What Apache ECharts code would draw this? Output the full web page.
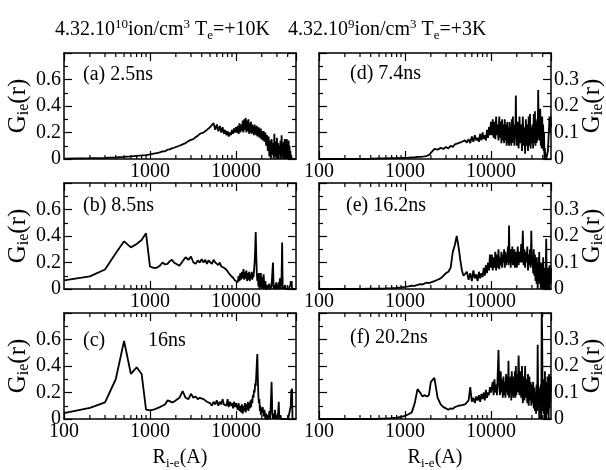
<!DOCTYPE html>
<html><head><meta charset="utf-8">
<script src="https://cdn.jsdelivr.net/npm/echarts@6/dist/echarts.min.js"></script>
<style>html,body{margin:0;padding:0;background:#fff}#c{width:606px;height:470px}</style>
</head><body><div id="c"></div>
<script>
// ---------------- data ----------------
const radius = [100,200,300,400,500,600,700,800,900,1000,
1100,1200,1300,1400,1500,1600,1700,1800,1900,2000,
2200,2400,2600,2800,3000,3200,3400,3600,3800,4000,4200,4400,4600,4800,5000,
5250,5500,5750,6000,6250,6500,6750,7000,7250,7500,7750,8000,8250,8500,8750,9000,9250,9500,9750,10000,
10250,10500,10750,11000,11250,11500,11750,12000,12250,12500,12750,13000,13250,13500,13750,14000,14250,14500,14750,15000,
15250,15500,15750,16000,16250,16500,16750,17000,17250,17500,17750,18000,18250,18500,18750,19000,19250,19500,19750,20000,
20500,21000,21500,22000,22500,23000,23500,24000,24500,25000,25500,26000,26500,27000,27500,28000,28500,29000,29500,30000,
30500,31000,31500,32000,32500,33000,33500,34000,34500,35000,35500,36000,36500,37000,37500,38000,38500,39000,39500,40000,
40500,41000,41500,42000,42500,43000,43500,44000,44500,45000,45500,46000,46500,47000,47500,48000,48500,49000,49500,50000];

// (a) 2.5ns
const gA = [0.003,0.006,0.009,0.012,0.016,0.02,0.024,0.027,0.03,0.035,
0.04,0.045,0.05,0.058,0.058,0.07,0.072,0.08,0.085,0.092,
0.1,0.11,0.12,0.135,0.145,0.15,0.165,0.175,0.19,0.195,0.2,0.21,0.22,0.215,0.24,
0.23,0.27,0.22,0.26,0.21,0.25,0.2,0.24,0.19,0.22,0.18,0.21,0.17,0.2,0.18,0.22,0.19,0.23,0.2,0.24,
0.2,0.25,0.19,0.27,0.2,0.26,0.21,0.29,0.2,0.3,0.22,0.31,0.2,0.29,0.21,0.3,0.19,0.27,0.2,0.28,
0.19,0.26,0.2,0.25,0.18,0.26,0.19,0.24,0.18,0.25,0.17,0.23,0.18,0.24,0.16,0.22,0.17,0.23,0.15,0.21,
0.14,0.21,0.13,0.2,0.1,0.18,0.06,0.17,0.02,0.14,0.0,0.15,0.03,0.12,0.0,0.19,0.02,0.13,0.0,0.16,
0.01,0.12,0.0,0.1,0.04,0.14,0.0,0.18,0.02,0.11,0.0,0.13,0.0,0.15,0.01,0.14,0.0,0.15,0.03,0.12,
0.0,0.14,0.02,0.1,0.0,0.06,0.0,0.03,0.0,0.0,0.0,0.0,0.0,0.0,0.0,0.0,0.0,0.0,0.0,0.0];
// (b) 8.5ns
const gB = [0.065,0.095,0.147,0.27,0.36,0.314,0.34,0.37,0.42,0.17,
0.16,0.16,0.175,0.2,0.185,0.19,0.21,0.22,0.2,0.19,
0.175,0.21,0.24,0.22,0.245,0.2,0.19,0.215,0.2,0.225,0.2,0.22,0.19,0.215,0.2,
0.19,0.22,0.2,0.21,0.18,0.2,0.17,0.185,0.16,0.17,0.145,0.14,0.12,0.115,0.1,0.095,0.085,0.07,0.065,0.08,
0.07,0.05,0.1,0.06,0.12,0.07,0.13,0.08,0.15,0.07,0.13,0.08,0.14,0.06,0.12,0.07,0.13,0.06,0.11,0.08,
0.13,0.07,0.12,0.09,0.14,0.2,0.3,0.43,0.25,0.12,0.06,0.11,0.02,0.12,0.0,0.1,0.03,0.12,0.01,0.09,
0.0,0.11,0.0,0.06,-0.02,0.03,0.0,0.0,0.04,0.0,0.0,0.02,0.12,0.2,0.0,0.03,0.0,0.0,0.05,0.0,
0.02,0.0,0.05,0.0,0.08,0.0,0.0,0.1,0.35,0.0,0.02,0.0,0.0,0.0,0.03,0.0,0.0,0.0,0.0,0.0,
0.0,0.0,0.0,0.0,0.0,0.03,0.06,0.02,0.06,0.0,0.0,0.0,0.0,0.0,0.0,0.0,0.0,0.0,0.0,0.0];
// (c) 16ns
const gC = [0.044,0.084,0.126,0.3,0.59,0.34,0.39,0.34,0.07,0.065,
0.07,0.08,0.09,0.1,0.11,0.14,0.135,0.125,0.13,0.14,
0.16,0.21,0.16,0.15,0.19,0.16,0.17,0.15,0.16,0.145,0.15,0.14,0.13,0.135,0.12,
0.1,0.13,0.11,0.14,0.1,0.13,0.11,0.15,0.11,0.12,0.1,0.15,0.09,0.13,0.1,0.12,0.08,0.13,0.09,0.12,
0.11,0.07,0.12,0.06,0.1,0.05,0.11,0.04,0.1,0.06,0.12,0.05,0.11,0.07,0.13,0.06,0.12,0.08,0.14,0.09,
0.15,0.12,0.18,0.16,0.22,0.2,0.27,0.25,0.33,0.42,0.49,0.3,0.18,0.12,0.15,0.06,0.1,0.03,0.08,0.05,
0.09,0.02,0.07,0.0,0.04,-0.02,0.03,0.0,0.06,0.0,0.12,0.28,0.05,0.0,0.04,0.0,0.07,0.0,0.02,0.0,
0.0,0.05,0.13,0.0,0.0,0.03,0.0,0.0,0.0,0.0,0.0,0.0,0.0,0.0,0.0,0.0,0.0,0.0,0.0,0.0,
0.0,0.0,0.0,0.0,0.0,0.0,0.1,0.22,0.15,0.23,0.0,0.0,0.0,0.0,0.0,0.0,0.0,0.0,0.0,0.0];
// (d) 7.4ns
const gD = [0,0,0,0.001,0.002,0.002,0.003,0.003,0.004,0.004,
0.005,0.006,0.006,0.008,0.008,0.009,0.01,0.012,0.015,0.02,
0.038,0.035,0.042,0.038,0.045,0.04,0.05,0.045,0.055,0.05,0.06,0.055,0.065,0.058,0.07,
0.062,0.075,0.06,0.085,0.065,0.09,0.07,0.08,0.065,0.095,0.07,0.1,0.075,0.09,0.07,0.11,0.08,0.12,0.09,0.14,
0.09,0.15,0.08,0.14,0.075,0.16,0.09,0.13,0.07,0.16,0.08,0.14,0.06,0.15,0.07,0.13,0.06,0.15,0.07,0.13,
0.05,0.14,0.06,0.12,0.05,0.14,0.06,0.12,0.05,0.15,0.06,0.16,0.07,0.13,0.05,0.12,0.08,0.24,0.1,0.05,
0.14,0.04,0.16,0.06,0.13,0.03,0.16,0.05,0.12,0.02,0.15,0.05,0.13,0.03,0.16,0.05,0.17,0.04,0.12,0.06,
0.13,0.04,0.17,0.06,0.18,0.05,0.14,0.06,0.15,0.07,0.26,0.08,0.12,0.07,0.19,0.05,0.15,0.04,0.16,0.06,
0.13,0.03,0.1,0.0,0.04,0.0,0.02,0.0,0.0,0.0,0.0,0.03,0.06,0.09,0.12,0.16,0.1,0.14,0.16,0.12];
// (e) 16.2ns
const gE = [0,0,0,0.001,0.001,0.002,0.003,0.004,0.006,0.008,
0.01,0.013,0.012,0.016,0.018,0.017,0.021,0.024,0.022,0.025,
0.03,0.035,0.04,0.05,0.06,0.065,0.08,0.14,0.165,0.2,0.16,0.11,0.07,0.05,0.045,
0.065,0.035,0.06,0.03,0.07,0.04,0.055,0.03,0.065,0.04,0.06,0.045,0.08,0.05,0.09,0.06,0.1,0.07,0.13,0.08,
0.13,0.07,0.12,0.08,0.14,0.07,0.13,0.08,0.15,0.075,0.12,0.09,0.14,0.08,0.13,0.1,0.15,0.08,0.14,0.09,
0.13,0.1,0.16,0.09,0.24,0.1,0.13,0.08,0.15,0.1,0.16,0.09,0.14,0.1,0.15,0.08,0.13,0.09,0.14,0.08,
0.16,0.09,0.14,0.1,0.17,0.1,0.22,0.09,0.15,0.08,0.14,0.1,0.16,0.07,0.13,0.09,0.15,0.08,0.22,0.09,
0.12,0.06,0.15,0.05,0.13,0.03,0.12,0.02,0.1,0.0,0.12,0.03,0.14,0.02,0.1,0.0,0.08,0.02,0.1,0.0,
0.12,0.03,0.08,0.0,0.05,0.0,0.07,0.19,0.05,0.0,0.02,0.08,0.03,0.07,0.0,0.09,0.03,0.08,0.02,0.08];
// (f) 20.2ns
const gF = [0,0,0,0,0.001,0.002,0.003,0.005,0.008,0.012,
0.018,0.025,0.06,0.113,0.1,0.085,0.09,0.085,0.09,0.14,
0.155,0.08,0.055,0.045,0.04,0.035,0.04,0.038,0.045,0.042,0.05,0.048,0.052,0.05,0.055,
0.06,0.07,0.12,0.065,0.08,0.06,0.085,0.07,0.09,0.065,0.095,0.075,0.1,0.07,0.11,0.08,0.1,0.09,0.12,0.1,
0.1,0.14,0.09,0.15,0.1,0.13,0.09,0.17,0.26,0.12,0.09,0.18,0.1,0.15,0.08,0.16,0.09,0.14,0.08,0.17,
0.1,0.16,0.09,0.22,0.08,0.15,0.1,0.16,0.07,0.18,0.09,0.16,0.08,0.15,0.1,0.18,0.08,0.2,0.09,0.17,
0.1,0.24,0.09,0.18,0.08,0.2,0.06,0.16,0.07,0.2,0.08,0.15,0.06,0.17,0.05,0.16,0.07,0.14,0.05,0.13,
0.06,0.14,0.04,0.12,0.03,0.1,0.02,0.13,0.03,0.28,0.06,0.12,0.0,0.1,0.02,0.13,0.0,0.42,0.3,0.03,
0.15,0.02,0.12,0.0,0.18,0.04,0.14,0.0,0.12,0.02,0.16,0.05,0.13,0.0,0.17,0.04,0.12,0.06,0.16,0.1];

const panelLetters = ['(a)','(b)','(c)','(d)','(e)','(f)'];
const panelTimes = ['2.5ns','8.5ns','16ns','7.4ns','16.2ns','20.2ns'];
const yMaxima = [0.8,0.8,0.8,0.4,0.4,0.4];
const yIntervals = [0.2,0.2,0.2,0.1,0.1,0.1];
const xTickLabels = [100,1000,10000];
const xMinorTicks = [200,300,400,500,600,700,800,900,2000,3000,4000,5000,6000,7000,8000,9000,20000,30000,40000];
const titles = ['{b|4.32.10}{p|10}{b|ion/cm}{p|3}{b| T}{s|e}{b|=+10K}',
                '{b|4.32.10}{p|9}{b|ion/cm}{p|3}{b| T}{s|e}{b|=+3K}'];
const yName = '{b|G}{s|ie}{b|(r)}';
const xName = '{b|R}{s|i-e}{b|(A)}';

// ---------------- layout ----------------
const FF = 'Liberation Serif';
const rich = {
  b: {fontFamily: FF, fontSize: 20, color: '#000', lineHeight: 24},
  s: {fontFamily: FF, fontSize: 13, color: '#000', verticalAlign: 'bottom', lineHeight: 8},
  p: {fontFamily: FF, fontSize: 13, color: '#000', verticalAlign: 'top', lineHeight: 14}
};
const richY = {
  b: {fontFamily: FF, fontSize: 25, color: '#000', lineHeight: 28},
  s: {fontFamily: FF, fontSize: 16, color: '#000', verticalAlign: 'bottom', lineHeight: 10}
};
const panelData = [gA, gB, gC, gD, gE, gF];
const colLeft = [64, 319], rowTop = [53, 183, 313], W = 232, H = 106;
const LW = 1.5;
const grids = [], xAxes = [], yAxes = [], series = [], graphics = [];

panelData.forEach((vals, i) => {
  const col = i < 3 ? 0 : 1, row = i % 3;
  grids.push({left: colLeft[col], top: rowTop[row], width: W, height: H, show: false,
    containLabel: false, outerBoundsMode: 'none'});
  const baseX = {type: 'log', logBase: 10, gridIndex: i, min: 100, max: 50000,
    axisLine: {show: true, onZero: false, lineStyle: {color: '#000', width: LW}},
    axisTick: {show: true, inside: true, length: 8, lineStyle: {color: '#000', width: 1.2}},
    minorTick: {show: false}, splitLine: {show: false}, minorSplitLine: {show: false}};
  const showMin = col === 1 || row === 2;
  xAxes.push(Object.assign({}, baseX, {position: 'bottom',
    axisLabel: {show: true, margin: 3, fontFamily: FF, fontSize: 20, color: '#000',
      showMinLabel: showMin, showMaxLabel: false,
      formatter: v => { const r = Math.round(v); return xTickLabels.indexOf(r) >= 0 ? String(r) : ''; }},
    name: row === 2 ? xName : '', nameLocation: 'middle', nameGap: 27, nameMoveOverlap: false,
    nameTextStyle: {rich: rich}}));
  xAxes.push(Object.assign({}, baseX, {position: 'top', axisLabel: {show: false}}));

  const ymax = yMaxima[i], yint = yIntervals[i];
  const baseY = {type: 'value', gridIndex: i, min: 0, max: ymax, interval: yint,
    axisLine: {show: true, onZero: false, lineStyle: {color: '#000', width: LW}},
    axisTick: {show: true, inside: true, length: 8, lineStyle: {color: '#000', width: 1.2}},
    minorTick: {show: true, splitNumber: 2, length: 4, lineStyle: {color: '#000', width: 1.2}},
    splitLine: {show: false}, minorSplitLine: {show: false}};
  const labelSide = col === 0 ? 'left' : 'right';
  const otherSide = col === 0 ? 'right' : 'left';
  yAxes.push(Object.assign({}, baseY, {position: labelSide,
    axisLabel: {show: true, margin: 3, fontFamily: FF, fontSize: 20, color: '#000', showMaxLabel: false,
      formatter: v => v === 0 ? '0' : v.toFixed(1)},
    name: yName, nameLocation: 'middle', nameRotate: 90, nameGap: col === 0 ? 32 : 27,
    nameMoveOverlap: false, nameTextStyle: {rich: richY}}));
  yAxes.push(Object.assign({}, baseY, {position: otherSide, axisLabel: {show: false}}));

  series.push({type: 'line', xAxisIndex: 2 * i, yAxisIndex: 2 * i,
    data: radius.map((r, k) => [r, vals[k]]),
    showSymbol: false, symbol: 'none', silent: true, clip: true,
    lineStyle: {color: '#000', width: 1.8}});
  series.push({type: 'custom', xAxisIndex: 2 * i, yAxisIndex: 2 * i, silent: true, clip: false,
    data: xMinorTicks.map(v => [v, 0]), encode: {x: 0, y: 1},
    renderItem: (params, api) => {
      const x = api.value(0);
      const b = api.coord([x, 0]);
      const t = api.coord([x, ymax]);
      return {type: 'group', children: [
        {type: 'line', shape: {x1: b[0], y1: b[1], x2: b[0], y2: b[1] - 4}, style: {stroke: '#000', lineWidth: 1.2}},
        {type: 'line', shape: {x1: t[0], y1: t[1], x2: t[0], y2: t[1] + 4}, style: {stroke: '#000', lineWidth: 1.2}}
      ]};
    }});
});

// panel labels
const labelPos = [[83, 74.5], [83, 205.5], [83, 340.5], [350, 74], [346, 206], [350, 338]];
labelPos.forEach((p, i) => {
  const txt = i === 2 ? panelLetters[i] : panelLetters[i] + ' ' + panelTimes[i];
  graphics.push({type: 'text', x: p[0], y: p[1], silent: true,
    style: {text: txt, font: '20px "' + FF + '"', fill: '#000', verticalAlign: 'middle', align: 'left'}});
});
graphics.push({type: 'text', x: 148, y: 340.5, silent: true,
  style: {text: panelTimes[2], font: '20px "' + FF + '"', fill: '#000', verticalAlign: 'middle', align: 'left'}});
// top titles
[[55, 18], [288, 18]].forEach((p, i) => {
  graphics.push({type: 'text', x: p[0], y: p[1], silent: true,
    style: {text: titles[i], rich: rich, fill: '#000', verticalAlign: 'top', align: 'left'}});
});

const chart = echarts.init(document.getElementById('c'), null, {renderer: 'canvas'});
chart.setOption({
  animation: false,
  backgroundColor: '#fff',
  grid: grids, xAxis: xAxes, yAxis: yAxes, series: series, graphic: graphics
});
</script></body></html>
